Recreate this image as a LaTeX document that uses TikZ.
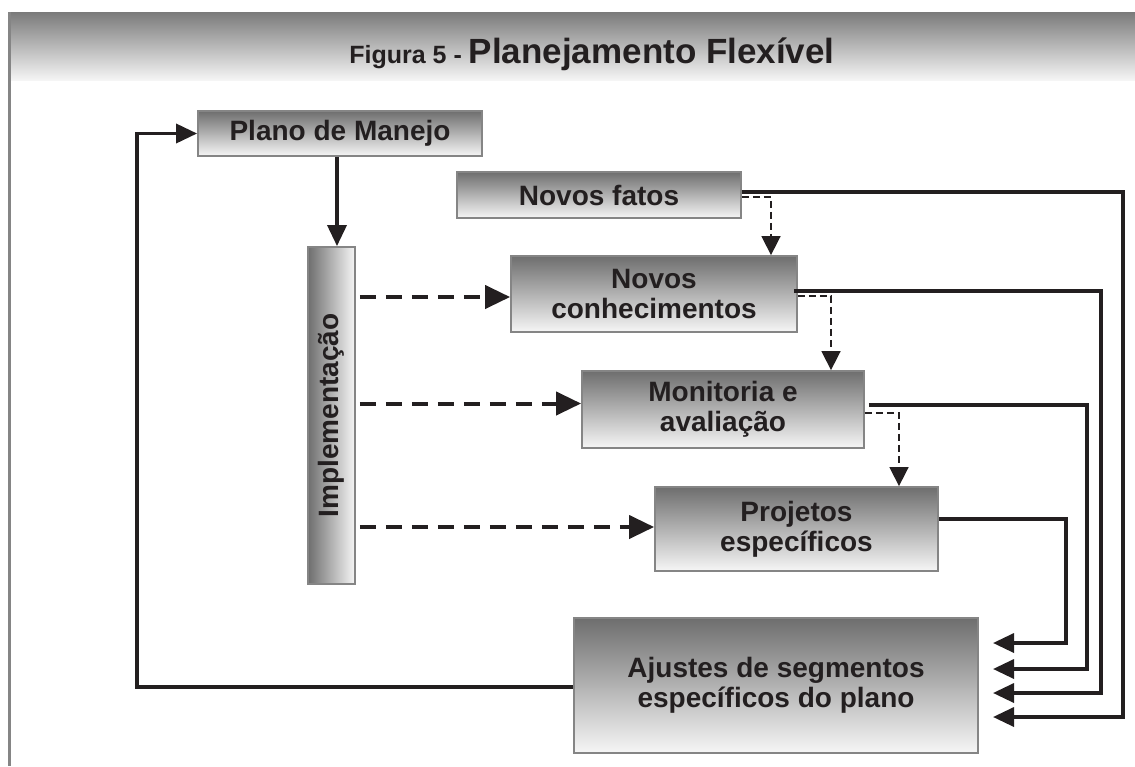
\documentclass[tikz,border=0pt]{standalone}
\usepackage{fontspec}
\setmainfont{Liberation Sans}
\usetikzlibrary{arrows.meta,calc}
\definecolor{ink}{HTML}{231F20}
\definecolor{boxdark}{HTML}{6E6E6E}
\definecolor{boxlight}{HTML}{F6F6F6}
\definecolor{edgegray}{HTML}{858585}
\begin{document}
\begin{tikzpicture}[x=1pt,y=1pt,
  box/.style={draw=edgegray,line width=1.8pt,top color=boxdark,bottom color=boxlight,
    text=ink,font=\bfseries\fontsize{28}{30}\selectfont,align=center,inner sep=0pt},
  solidarrow/.style={draw=ink,line width=3.5pt,-{Triangle[length=21pt,width=19pt]}},
  bigdash/.style={draw=ink,line width=4pt,dash pattern=on 16pt off 10pt,
    -{Triangle[length=25pt,width=23pt]}},
  smalldash/.style={draw=ink,line width=1.6pt,dash pattern=on 7pt off 4pt,
    -{Triangle[length=19pt,width=19pt]}}
]
\useasboundingbox (0,0) rectangle (1135,-766);
% frame and title bar
\shade[top color=black!52,bottom color=black!4] (8,-12) rectangle (1135,-80);
\draw[edgegray,line width=3pt] (9,-12) -- (9,-766);
\node[anchor=base,text=ink,font=\bfseries] (title) at (592,-63)
  {\fontsize{25}{25}\selectfont Figura 5 - \fontsize{35}{35}\selectfont Planejamento Flexível};
% boxes
\node[box,minimum width=284pt,minimum height=45pt] (plano) at (340,-133.5) {Plano de Manejo};
\node[box,minimum width=284pt,minimum height=46pt] (fatos) at (599,-195) {Novos fatos};
\node[box,minimum width=286pt,minimum height=76pt] (conh) at (654,-294) {Novos\\conhecimentos};
\node[box,minimum width=282pt,minimum height=77pt] (monit) at (723,-409.5) {Monitoria e\\avaliação};
\node[box,minimum width=283pt,minimum height=84pt] (proj) at (796.5,-529) {Projetos\\específicos};
\node[box,minimum width=404pt,minimum height=135pt] (ajustes) at (776,-685.5) {Ajustes de segmentos\\específicos do plano};
\node[box,top color=boxdark,bottom color=boxdark,left color=boxdark,right color=boxlight,
  minimum width=47pt,minimum height=337pt] (impl) at (331.5,-415.5) {};
\node[rotate=90,text=ink,font=\bfseries\fontsize{28}{30}\selectfont] (impltext) at (impl.center) {Implementação};
% entry points at Ajustes
\coordinate (in1) at (993,-643);
\coordinate (in2) at (993,-669);
\coordinate (in3) at (993,-693);
\coordinate (in4) at (993,-717);
\coordinate (fb) at (137,-687);
% connectors
\draw[solidarrow] (plano.south -| 337,0) -- (337,0 |- impl.north);
\draw[solidarrow] ([yshift=-1.5pt]ajustes.west) -- (fb) |- (plano.west);
\draw[bigdash] ([xshift=4pt,yshift=-3pt]impl.east |- conh.west) -- ([yshift=-3pt]conh.west);
\draw[bigdash] ([xshift=4pt,yshift=6pt]impl.east |- monit.west) -- ([yshift=6pt]monit.west);
\draw[bigdash] ([xshift=4pt,yshift=2pt]impl.east |- proj.west) -- ([yshift=2pt]proj.west);
\draw[smalldash] ([yshift=-2pt]fatos.east) -| ([xshift=117pt]conh.north);
\draw[smalldash] ([yshift=-2pt]conh.east) -| ([xshift=108pt]monit.north);
\draw[smalldash] ([yshift=-3.5pt]monit.east) -| ([xshift=102.5pt]proj.north);
\draw[solidarrow] ([yshift=3pt]fatos.east) -| ($(in4)+(130,0)$) -- (in4);
\draw[solidarrow] ([yshift=3pt,xshift=-4pt]conh.east) -| ($(in3)+(108,0)$) -- (in3);
\draw[solidarrow] ([yshift=4.5pt,xshift=4pt]monit.east) -| ($(in2)+(94,0)$) -- (in2);
\draw[solidarrow] ([yshift=10pt]proj.east) -| ($(in1)+(73,0)$) -- (in1);
\end{tikzpicture}
\end{document}
